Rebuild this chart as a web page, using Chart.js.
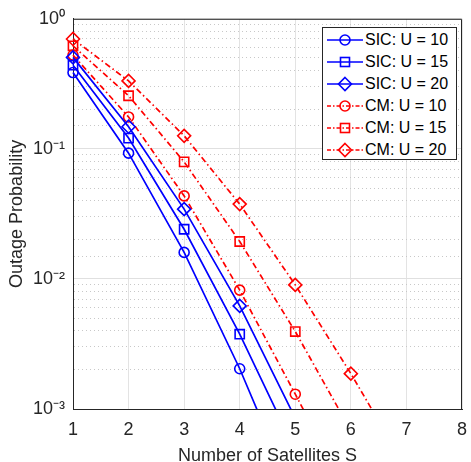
<!DOCTYPE html>
<html>
<head>
<meta charset="utf-8">
<script src="https://cdn.jsdelivr.net/npm/chart.js@4/dist/chart.umd.min.js"></script>
<style>
  body { margin: 0; background: #fff; }
  #wrap { position: relative; width: 471px; height: 462px; }
  #legend {
    position: absolute; left: 322px; top: 27px; width: 135px; height: 133px;
    border: 1px solid #262626; background: #fff; box-sizing: border-box;
    font-family: "Liberation Sans", Arial, sans-serif; font-size: 16px; color: #000;
    padding-top: 1px;
  }
  .row { height: 22px; display: flex; align-items: center; }
  .row svg { margin-left: 4px; margin-right: 2px; }
</style>
</head>
<body>
<div id="wrap">
  <canvas id="myChart" width="471" height="462"></canvas>
  <div id="legend"></div>
</div>
<script>
const satellites = [1, 2, 3, 4, 5, 6, 7]

// outage probability (values below 1e-3 fall outside the axes)
const sic10 = [0.386, 0.0927, 0.016, 0.00204, 0.0002]
const sic15 = [0.44, 0.121, 0.0241, 0.00376, 0.00048]
const sic20 = [0.505, 0.148, 0.0344, 0.0062, 0.00085]
const cm10 = [0.526, 0.176, 0.0435, 0.0082, 0.0013, 0.0002]
const cm15 = [0.62, 0.256, 0.0794, 0.0194, 0.00394, 0.00068]
const cm20 = [0.70, 0.333, 0.126, 0.0376, 0.009, 0.00187, 0.00035]

const names = ['SIC: U = 10', 'SIC: U = 15', 'SIC: U = 20', 'CM: U = 10', 'CM: U = 15', 'CM: U = 20']
const series = [sic10, sic15, sic20, cm10, cm15, cm20]
const markers = ['circle', 'rect', 'rectRot', 'circle', 'rect', 'rectRot']
const radii = { circle: 5, rect: 6.5, rectRot: 6.5 }
const supers = { '0': '\u2070', '1': '\u00b9', '2': '\u00b2', '3': '\u00b3', '-': '\u207b' }

const dashDot = [6, 3, 1.5, 3]
const font = '"Liberation Sans", Arial, sans-serif'

const datasets = series.map((vals, i) => {
  const red = i >= 3
  const color = red ? '#ff0000' : '#0000ff'
  return {
    label: names[i],
    data: vals.map((v, j) => ({ x: satellites[j], y: v })),
    borderColor: color,
    backgroundColor: 'rgba(0,0,0,0)',
    borderWidth: 1.7,
    borderDash: red ? dashDot : [],
    pointStyle: markers[i],
    pointRadius: radii[markers[i]],
    pointBorderWidth: 1.6,
    pointBorderColor: color,
    pointBackgroundColor: 'rgba(0,0,0,0)',
    tension: 0,
    clip: { left: 10, top: 10, right: 0, bottom: 0 }
  }
})

const isMajor = v => Math.abs(Math.log10(v) - Math.round(Math.log10(v))) < 1e-6

const boxPlugin = {
  id: 'box',
  afterDraw(chart) {
    const a = chart.chartArea
    const c = chart.ctx
    c.save()
    c.strokeStyle = '#262626'
    c.lineWidth = 1
    c.beginPath()
    c.moveTo(a.left, a.top + 0.5)
    c.lineTo(a.right - 0.5, a.top + 0.5)
    c.lineTo(a.right - 0.5, a.bottom)
    c.stroke()
    c.restore()
  }
}

const config = {
  type: 'line',
  data: { datasets },
  options: {
    responsive: false,
    animation: false,
    layout: { padding: { top: 17, right: 9, left: 0, bottom: 0 } },
    plugins: { legend: { display: false }, tooltip: { enabled: false } },
    scales: {
      x: {
        type: 'linear',
        min: 1,
        max: 8,
        afterFit: s => { s.height = 53; s.paddingRight = 0; s.paddingLeft = 0 },
        ticks: { stepSize: 1, color: '#262626', padding: 10, font: { family: font, size: 18 } },
        grid: { color: '#e3e3e3', lineWidth: 1, drawTicks: false },
        border: { color: '#262626', width: 1 },
        title: { display: true, text: 'Number of Satellites S', color: '#262626', font: { family: font, size: 18 }, padding: { top: 9, bottom: -5 } }
      },
      y: {
        type: 'logarithmic',
        min: 0.001,
        max: 1,
        afterFit: s => { s.width = 73 },
        ticks: {
          color: '#262626',
          padding: 8,
          autoSkip: false,
          font: { family: font, size: 18 },
          callback: v => {
            if (!isMajor(v)) return ''
            const e = String(Math.round(Math.log10(v)))
            return '10' + e.split('').map(ch => supers[ch]).join('')
          }
        },
        grid: {
          drawTicks: false,
          lineWidth: 1,
          color: ctx => (ctx.tick && !isMajor(ctx.tick.value)) ? '#c8c8c8' : '#e0e0e0'
        },
        border: {
          color: '#262626',
          width: 1,
          dash: ctx => (ctx.tick && !isMajor(ctx.tick.value)) ? [1, 3] : []
        },
        title: { display: true, text: 'Outage Probability', color: '#262626', font: { family: font, size: 18 }, padding: { top: 6, bottom: 0 } }
      }
    }
  },
  plugins: [boxPlugin]
}

const myChart = new Chart(document.getElementById('myChart'), config)

// legend with line + marker samples, like the original figure
const legend = document.getElementById('legend')
names.forEach((name, i) => {
  const red = i >= 3
  const color = red ? '#ff0000' : '#0000ff'
  const dash = red ? 'stroke-dasharray="4,2,1.5,2"' : ''
  let mk = ''
  if (markers[i] === 'circle') mk = `<circle cx="18" cy="8" r="5" fill="none" stroke="${color}" stroke-width="1.6"/>`
  if (markers[i] === 'rect') mk = `<rect x="13.5" y="3.5" width="9" height="9" fill="none" stroke="${color}" stroke-width="1.6"/>`
  if (markers[i] === 'rectRot') mk = `<path d="M18 1.5 L24.5 8 L18 14.5 L11.5 8 Z" fill="none" stroke="${color}" stroke-width="1.6"/>`
  const row = document.createElement('div')
  row.className = 'row'
  row.innerHTML = `<svg width="36" height="16"><line x1="0" y1="8" x2="36" y2="8" stroke="${color}" stroke-width="1.6" ${dash}/>${mk}</svg><span>${name}</span>`
  legend.appendChild(row)
})
</script>
</body>
</html>
